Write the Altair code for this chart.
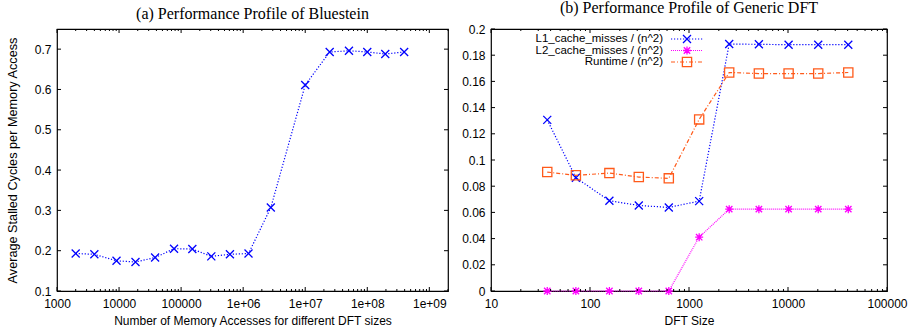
import altair as alt
import pandas as pd

# ---------------- data ----------------
# (a) Bluestein
acc_sizes = [2000, 4000, 9100, 18400, 38100, 76900, 151700, 306700, 612000,
             1220000, 2790000, 10000000, 24800000, 50700000, 100000000,
             195000000, 393000000]
stall_cycles = [0.193, 0.191, 0.175, 0.172, 0.183, 0.205, 0.204, 0.186, 0.191,
                0.193, 0.307, 0.611, 0.693, 0.696, 0.693, 0.688, 0.693]

# (b) Generic DFT
dft_sizes = [37, 72, 157, 311, 625, 1267, 2547, 5080, 10140, 20200, 40640]
l1_misses = [0.1306, 0.0865, 0.0689, 0.0653, 0.0638, 0.0686, 0.1885, 0.1883,
             0.188, 0.188, 0.188]
l2_misses = [0.0, 0.0, 0.0, 0.0, 0.0, 0.0411, 0.0625, 0.0625, 0.0625, 0.0625,
             0.0625]
runtime = [0.0908, 0.0883, 0.0900, 0.0870, 0.0860, 0.1310, 0.1668, 0.1660,
           0.1660, 0.1660, 0.1668]

series_names = ["L1_cache_misses / (n^2)", "L2_cache_misses / (n^2)",
                "Runtime / (n^2)"]

# tick values
a_x_ticks = [1e3, 1e4, 1e5, 1e6, 1e7, 1e8, 1e9]
a_y_ticks = [0.1, 0.2, 0.3, 0.4, 0.5, 0.6, 0.7]
b_x_ticks = [10, 100, 1000, 10000, 100000]
b_y_ticks = [0, 0.02, 0.04, 0.06, 0.08, 0.1, 0.12, 0.14, 0.16, 0.18, 0.2]
a_x_minor = [m * d for d in a_x_ticks for m in range(2, 10) if m * d <= 2e9]
b_x_minor = [m * d for d in b_x_ticks for m in range(2, 10) if m * d <= 1e5]

# ---------------- style ----------------
BLUE = "#0000ff"
MAGENTA = "#ff00ff"
ORANGE = "#ff5a1a"
X_PATH = "M-1,-1L1,1M1,-1L-1,1"
STAR_PATH = "M-1,0L1,0M0,-1L0,1M-0.8,-0.8L0.8,0.8M-0.8,0.8L0.8,-0.8"
W_A, W_B, H = 391, 396, 262
MAJ, MIN = 4, 2

a_xs = alt.Scale(type="log", domain=[1000, 2e9], nice=False)
a_ys = alt.Scale(domain=[0.1, 0.75], nice=False, zero=False)
b_xs = alt.Scale(type="log", domain=[10, 100000], nice=False)
b_ys = alt.Scale(domain=[0, 0.2], nice=False)

a_x_axis = alt.Axis(
    title="Number of Memory Accesses for different DFT sizes",
    values=a_x_ticks, labelFlush=False,
    labelExpr="datum.value >= 1e6 ? '1e+0' + format(log(datum.value)/LN10, '.0f') : format(datum.value, 'd')")
a_y_axis = alt.Axis(title="Average Stalled Cycles per Memory Access",
                    values=a_y_ticks, format=".1f", labelFlush=False,
                    titleFontSize=12.7)
b_x_axis = alt.Axis(title="DFT Size", values=b_x_ticks, format="d",
                    labelFlush=False)
b_y_axis = alt.Axis(title="", values=b_y_ticks, format="~g", labelFlush=False)


def tick_layers(xmaj, xmin, ymaj, xs, ys, xa, ya, width, height):
    layers = []
    for vals, L in [(xmaj, MAJ), (xmin, MIN)]:
        base = alt.Chart(pd.DataFrame({"v": vals})).mark_rule(
            color="black", strokeWidth=1)
        xe = alt.X("v:Q", scale=xs, axis=xa)
        layers.append(base.encode(x=xe, y=alt.value(height), y2=alt.value(height - L)))
        layers.append(base.encode(x=xe, y=alt.value(0), y2=alt.value(L)))
    base = alt.Chart(pd.DataFrame({"v": ymaj})).mark_rule(color="black", strokeWidth=1)
    ye = alt.Y("v:Q", scale=ys, axis=ya)
    layers.append(base.encode(y=ye, x=alt.value(0), x2=alt.value(MAJ)))
    layers.append(base.encode(y=ye, x=alt.value(width - MAJ), x2=alt.value(width)))
    return layers


# ---------------- chart (a) ----------------
df_a = pd.DataFrame({"acc": acc_sizes, "stall": stall_cycles})
a_x_enc = alt.X("acc:Q", scale=a_xs, axis=a_x_axis)
a_y_enc = alt.Y("stall:Q", scale=a_ys, axis=a_y_axis)

a_line = alt.Chart(df_a).mark_line(color=BLUE, strokeDash=[1.2, 1.8],
                                   strokeWidth=1.2).encode(x=a_x_enc, y=a_y_enc)
a_pts = alt.Chart(df_a).mark_point(shape=X_PATH, size=64, filled=False,
                                   color=BLUE, strokeWidth=1.3, opacity=1).encode(
    x=a_x_enc, y=a_y_enc)

chart_a = alt.layer(
    a_line, a_pts,
    *tick_layers(a_x_ticks, a_x_minor, a_y_ticks, a_xs, a_ys, a_x_axis, a_y_axis, W_A, H)
).properties(width=W_A, height=H,
             title=alt.Title("(a) Performance Profile of Bluestein"))

# ---------------- chart (b) ----------------
df_b = pd.DataFrame({"n": dft_sizes, "l1": l1_misses, "l2": l2_misses,
                     "rt": runtime})
b_x_enc = alt.X("n:Q", scale=b_xs, axis=b_x_axis)

styles = [
    ("l1", BLUE, [1.2, 1.8], dict(shape=X_PATH, size=64, filled=False, strokeWidth=1.3)),
    ("l2", MAGENTA, [1, 1], dict(shape=STAR_PATH, size=64, filled=False, strokeWidth=1.3)),
    ("rt", ORANGE, [4, 2, 1, 2], dict(shape="square", size=85, filled=False, strokeWidth=1.3)),
]

b_layers = []
for col, colr, dash, pt in styles:
    ye = alt.Y(f"{col}:Q", scale=b_ys, axis=b_y_axis)
    b_layers.append(alt.Chart(df_b).mark_line(color=colr, strokeDash=dash,
                                              strokeWidth=1.2).encode(x=b_x_enc, y=ye))
    b_layers.append(alt.Chart(df_b).mark_point(color=colr, opacity=1, **pt).encode(
        x=b_x_enc, y=ye))

# legend (gnuplot style: text left, sample right)
leg_rows_y = [10, 21.5, 33]
leg_layers = []
for (col, colr, dash, pt), name, ry in zip(styles, series_names, leg_rows_y):
    ldf = pd.DataFrame({"label": [name]})
    leg_layers.append(alt.Chart(ldf).mark_text(
        align="right", baseline="middle", font="Liberation Sans", fontSize=11.5,
        color="black").encode(text="label:N", x=alt.value(172), y=alt.value(ry)))
    leg_layers.append(alt.Chart(ldf).mark_rule(
        color=colr, strokeDash=dash, strokeWidth=1.2).encode(
        x=alt.value(180), x2=alt.value(212), y=alt.value(ry)))
    leg_layers.append(alt.Chart(ldf).mark_point(color=colr, opacity=1, **pt).encode(
        x=alt.value(196), y=alt.value(ry)))

chart_b = alt.layer(
    *b_layers,
    *tick_layers(b_x_ticks, b_x_minor, b_y_ticks, b_xs, b_ys, b_x_axis, b_y_axis, W_B, H),
    *leg_layers
).properties(width=W_B, height=H,
             title=alt.Title("(b) Performance Profile of Generic DFT"))

chart = alt.hconcat(chart_a, chart_b, spacing=11).properties(
    padding={"left": 5, "top": -1, "right": 2, "bottom": 0}
).configure_axis(
    labelFont="Liberation Sans", labelFontSize=12, labelColor="black",
    titleFont="Liberation Sans", titleFontSize=12, titleFontWeight="normal",
    titleColor="black", ticks=False, domain=False, grid=False, labelPadding=6
).configure_axisX(titlePadding=6, labelPadding=7).configure_axisY(
    titlePadding=15).configure_view(
    stroke="black", strokeWidth=1.2
).configure_title(
    font="Liberation Serif", fontSize=16, fontWeight="normal", offset=7,
    frame="group", color="black"
)

chart.save("out.html", embed_options={"renderer": "svg", "actions": False})
